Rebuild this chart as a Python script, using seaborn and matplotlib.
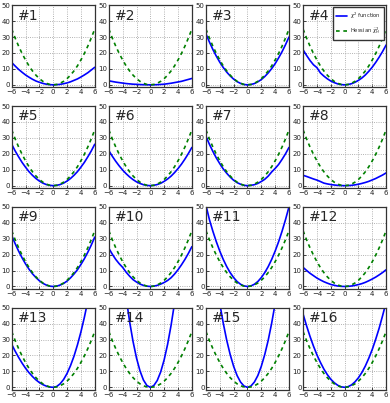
import numpy as np
import pandas as pd
import matplotlib
matplotlib.use("Agg")
import matplotlib.pyplot as plt
import seaborn as sns

# griglia x comune (passo 0.5)
x_grid = [-6, -5.5, -5, -4.5, -4, -3.5, -3, -2.5, -2, -1.5, -1, -0.5, 0,
          0.5, 1, 1.5, 2, 2.5, 3, 3.5, 4, 4.5, 5, 5.5, 6]

# curva Hessiana (uguale in tutti i pannelli)
hessian = [35, 29.4, 24.3, 19.7, 15.6, 11.9, 8.75, 6.08, 3.89, 2.19, 0.97, 0.24, 0,
           0.24, 0.97, 2.19, 3.89, 6.08, 8.75, 11.9, 15.6, 19.7, 24.3, 29.4, 35]

# funzione chi^2 per ogni pannello (#1 .. #16)
chi2_curves = [
    [14, 11.8, 9.7, 7.9, 6.2, 4.8, 3.5, 2.4, 1.6, 0.9, 0.4, 0.1, 0, 0.1, 0.3, 0.7, 1.2, 1.9, 2.8, 3.7, 4.9, 6.2, 7.6, 9.3, 11],
    [2.5, 2.1, 1.7, 1.4, 1.1, 0.8, 0.6, 0.4, 0.3, 0.16, 0.07, 0.02, 0, 0.03, 0.1, 0.25, 0.4, 0.7, 1.0, 1.4, 1.8, 2.2, 2.8, 3.4, 4],
    [32, 26.9, 22.2, 18, 14.2, 10.9, 8.0, 5.6, 3.6, 2.0, 0.9, 0.2, 0, 0.2, 0.8, 1.9, 3.3, 5.2, 7.5, 10.2, 13.3, 16.9, 20.8, 25.2, 30],
    [22, 18.5, 15.3, 12.6, 10.8, 7.5, 5.5, 3.8, 2.4, 1.4, 0.6, 0.15, 0, 0.2, 0.7, 1.6, 2.8, 4.3, 6.2, 8.5, 11.1, 14.1, 17.4, 21, 25],
    [26, 21.8, 18.1, 14.6, 11.6, 8.8, 6.5, 4.5, 2.9, 1.6, 0.7, 0.2, 0, 0.2, 0.7, 1.6, 2.9, 4.5, 6.5, 8.8, 11.6, 14.6, 18.1, 21.8, 26],
    [22, 18.5, 15.3, 12.4, 9.8, 7.5, 5.5, 3.8, 2.4, 1.4, 0.6, 0.15, 0, 0.2, 0.7, 1.5, 2.7, 4.2, 6.0, 8.2, 10.7, 13.5, 16.7, 20.2, 24],
    [31, 26, 21.5, 17.4, 13.8, 10.5, 7.8, 5.4, 3.4, 1.9, 0.9, 0.2, 0, 0.2, 0.6, 1.4, 2.6, 4.0, 6.0, 8.6, 10.8, 13.3, 16.5, 20, 24],
    [6.5, 5.8, 5.0, 4.2, 3.5, 2.6, 1.6, 1.1, 0.7, 0.4, 0.2, 0.05, 0, 0.06, 0.2, 0.5, 0.9, 1.4, 2.0, 2.7, 3.6, 4.5, 5.6, 6.7, 8],
    [32, 26.9, 22.2, 18, 14.2, 10.9, 8.0, 5.6, 3.6, 2.0, 0.9, 0.2, 0, 0.2, 0.9, 1.9, 3.4, 5.4, 7.8, 10.5, 13.8, 17.4, 21.5, 26, 31],
    [24, 20.3, 17, 14.3, 12, 9.0, 6.5, 4.3, 2.8, 1.5, 0.7, 0.2, 0, 0.2, 0.7, 1.5, 2.5, 3.8, 5.5, 7.8, 10.5, 13.6, 17, 20.8, 25],
    [51, 42, 34.7, 28.1, 22.2, 17, 12.5, 8.7, 5.6, 3.1, 1.4, 0.35, 0, 0.35, 1.4, 3.1, 5.6, 8.7, 12.5, 17, 22.2, 28.1, 34.7, 42, 50],
    [12, 10.1, 8.3, 6.8, 5.3, 4.1, 3.0, 2.1, 1.3, 0.75, 0.3, 0.08, 0, 0.07, 0.3, 0.7, 1.2, 1.8, 2.6, 3.6, 4.7, 5.9, 7.3, 8.8, 10.5],
    [27, 22.7, 18.8, 15.2, 12, 9.2, 6.8, 4.7, 3, 1.7, 0.75, 0.2, 0, 0.5, 2.2, 4.9, 8.7, 13.6, 19.5, 26.6, 34.7, 43.9, 54.2, 65.6, 78],
    [166, 139, 115, 93, 73.6, 56.4, 41.4, 28.8, 18.4, 10.4, 4.6, 1.15, 0, 1.1, 4.3, 9.7, 17.3, 27.1, 39, 53, 69, 88, 108, 131, 156],
    [118, 99.5, 82, 66.6, 52.6, 40.3, 29.6, 20.6, 13.2, 7.4, 3.3, 0.8, 0, 0.8, 3.3, 7.4, 13.2, 20.6, 29.6, 40.3, 52.6, 66.6, 82, 99.5, 118],
    [46, 38.7, 32, 25.9, 20.4, 15.7, 11.5, 8.0, 5.1, 2.9, 1.3, 0.3, 0, 0.4, 1.5, 3.4, 6, 9.3, 13.4, 18.3, 23.8, 30.2, 37.2, 45.1, 53.5],
]

sns.set_theme(style="whitegrid", rc={
    "axes.edgecolor": "#333333",
    "axes.linewidth": 0.9,
    "grid.color": "#999999",
    "grid.linestyle": ":",
    "grid.linewidth": 0.6,
    "xtick.direction": "in",
    "ytick.direction": "in",
    "xtick.major.size": 2.5,
    "ytick.major.size": 2.5,
    "xtick.major.width": 0.6,
    "ytick.major.width": 0.6,
    "xtick.major.pad": 1.5,
    "ytick.major.pad": 1.0,
    "xtick.bottom": True,
    "ytick.left": True,
})
plt.rcParams["font.family"] = ["DejaVu Sans"]

fig, axes = plt.subplots(4, 4, figsize=(3.9, 4.03), dpi=100)
fig.subplots_adjust(left=0.03, right=0.99, top=0.987, bottom=0.033,
                    wspace=0.17, hspace=0.23)

for i, ax in enumerate(axes.flat):
    df = pd.DataFrame({"x": x_grid, "chi2": chi2_curves[i], "hess": hessian})
    sns.lineplot(data=df, x="x", y="chi2", ax=ax, color="blue", lw=1.2,
                 label=r"$\chi^2$ function")
    sns.lineplot(data=df, x="x", y="hess", ax=ax, color="green", lw=1.2,
                 linestyle=(0, (2.2, 2.2)), label=r"Hessian $\tilde{\chi}^2_H$")
    ax.set_xlim(-6, 6)
    ax.set_ylim(-1.5, 50)
    ax.set_xticks([-6, -4, -2, 0, 2, 4, 6])
    ax.set_yticks([0, 10, 20, 30, 40, 50])
    ax.tick_params(labelsize=5, colors="#222222")
    ax.set_xlabel("")
    ax.set_ylabel("")
    ax.text(0.07, 0.96, "#%d" % (i + 1), transform=ax.transAxes,
            fontsize=10, va="top", ha="left")
    if i == 3:
        ax.legend(loc="upper right", fontsize=3.8, frameon=True,
                  fancybox=False, edgecolor="#333333", framealpha=1,
                  handlelength=2.0, handletextpad=0.6, borderpad=0.6,
                  labelspacing=0.9, borderaxespad=0.4)
    else:
        ax.get_legend().remove()

plt.savefig("out.png", dpi=100)
